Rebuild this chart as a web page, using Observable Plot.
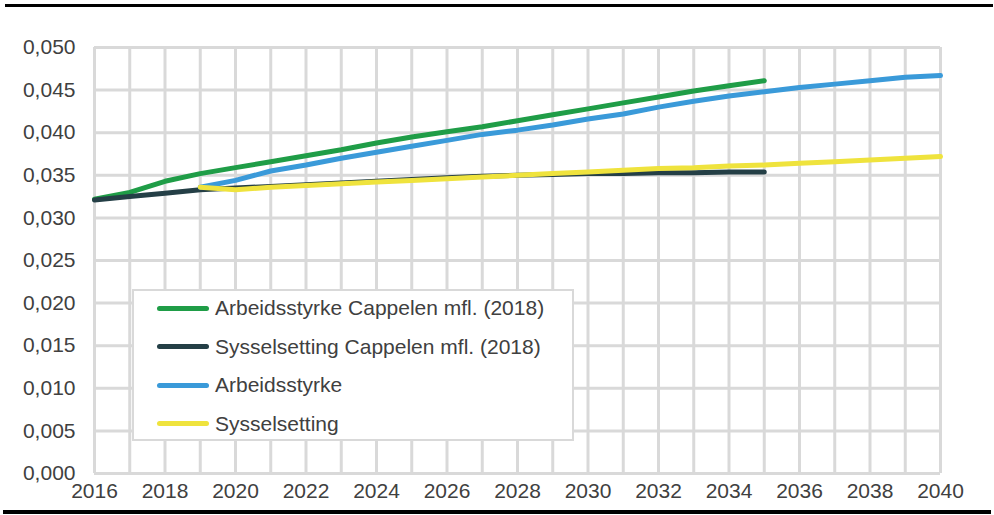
<!DOCTYPE html>
<html>
<head>
<meta charset="utf-8">
<script src="https://cdn.jsdelivr.net/npm/d3@7"></script>
<script src="https://cdn.jsdelivr.net/npm/@observablehq/plot@0.6"></script>
<style>
  html, body { margin: 0; padding: 0; background: #fff; }
  #wrap { position: relative; width: 994px; height: 515px; overflow: hidden; font-family: "Liberation Sans", Arial, sans-serif; }
  .bar { position: absolute; background: #000; }
  #legend { position: absolute; left: 132px; top: 289px; width: 438px; height: 148px; background: #fff; border: 2px solid #d9d9d9; }
  .item { position: absolute; left: 23px; height: 24px; display: flex; align-items: center; font-size: 21px; color: #404040; white-space: nowrap; }
  .sw { width: 52px; height: 5px; border-radius: 3px; margin-right: 6px; }
</style>
</head>
<body>
<div id="wrap"></div>
<script>
const years = d3.range(2016, 2041);
const xTickLabels = d3.range(2016, 2041, 2);
const yTicks = [0, 0.005, 0.01, 0.015, 0.02, 0.025, 0.03, 0.035, 0.04, 0.045, 0.05];

const seriesNames = [
  "Arbeidsstyrke Cappelen mfl. (2018)",
  "Sysselsetting Cappelen mfl. (2018)",
  "Arbeidsstyrke",
  "Sysselsetting"
];
const seriesColors = ["#1f9d47", "#243f46", "#3a9ad9", "#efe33d"];

const cappelenYears = d3.range(2016, 2036);
const newYears = d3.range(2019, 2041);

const arbeidsstyrkeCappelen = [0.0322, 0.0330, 0.0343, 0.0352, 0.0359, 0.0366, 0.0373, 0.0380, 0.0388, 0.0395,
  0.0401, 0.0407, 0.0414, 0.0421, 0.0428, 0.0435, 0.0442, 0.0449, 0.0455, 0.0461];
const sysselsettingCappelen = [0.0321, 0.0325, 0.0329, 0.0333, 0.0335, 0.0337, 0.0339, 0.0341, 0.0343, 0.0345,
  0.0347, 0.0349, 0.0350, 0.0351, 0.0352, 0.0352, 0.0353, 0.0353, 0.0354, 0.0354];
const arbeidsstyrke = [0.0336, 0.0344, 0.0355, 0.0362, 0.0370, 0.0377, 0.0384, 0.0391, 0.0398, 0.0403, 0.0409,
  0.0416, 0.0422, 0.0430, 0.0437, 0.0443, 0.0448, 0.0453, 0.0457, 0.0461, 0.0465, 0.0467];
const sysselsetting = [0.0336, 0.0333, 0.0336, 0.0338, 0.0340, 0.0342, 0.0344, 0.0346, 0.0348, 0.0350, 0.0352,
  0.0354, 0.0356, 0.0358, 0.0359, 0.0361, 0.0362, 0.0364, 0.0366, 0.0368, 0.0370, 0.0372];

const seriesYears = [cappelenYears, cappelenYears, newYears, newYears];
const seriesValues = [arbeidsstyrkeCappelen, sysselsettingCappelen, arbeidsstyrke, sysselsetting];

const rows = [];
seriesNames.forEach((name, i) => {
  seriesYears[i].forEach((yr, j) => rows.push({series: name, year: yr, value: seriesValues[i][j]}));
});

const fmtY = d => d3.format(".3f")(d).replace(".", ",");

const chart = Plot.plot({
  width: 994,
  height: 515,
  marginLeft: 94,
  marginRight: 54,
  marginTop: 47,
  marginBottom: 42,
  style: { fontFamily: "'Liberation Sans', Arial, sans-serif", fontSize: "21px", color: "#404040", background: "transparent" },
  x: { domain: [2016, 2040], label: null },
  y: { domain: [0, 0.05], label: null },
  color: { domain: seriesNames, range: seriesColors },
  marks: [
    Plot.ruleX(years, { x: d => d, stroke: "#d9d9d9", strokeWidth: 3 }),
    Plot.ruleY(yTicks, { y: d => d, stroke: "#d9d9d9", strokeWidth: 3 }),
    Plot.axisX({ ticks: xTickLabels, tickFormat: d => String(d), tickSize: 0, tickPadding: 10, fill: "#404040", fontSize: 21, label: null }),
    Plot.axisY({ ticks: yTicks, tickFormat: fmtY, tickSize: 0, tickPadding: 19, fill: "#404040", fontSize: 21, label: null }),
    Plot.line(rows, { x: "year", y: "value", z: "series", stroke: "series", strokeWidth: 5, strokeLinecap: "round", strokeLinejoin: "round" })
  ]
});

const wrap = document.getElementById("wrap");
wrap.appendChild(chart);

const topBar = document.createElement("div");
topBar.className = "bar";
Object.assign(topBar.style, { left: "5px", top: "4px", width: "988px", height: "3px" });
wrap.appendChild(topBar);
const botBar = document.createElement("div");
botBar.className = "bar";
Object.assign(botBar.style, { left: "3px", top: "510px", width: "988px", height: "4px" });
wrap.appendChild(botBar);

const legend = document.createElement("div");
legend.id = "legend";
seriesNames.forEach((name, i) => {
  const it = document.createElement("div");
  it.className = "item";
  it.style.top = (5 + i * 38.5) + "px";
  const sw = document.createElement("div");
  sw.className = "sw";
  sw.style.background = seriesColors[i];
  const tx = document.createElement("span");
  tx.textContent = name;
  it.appendChild(sw);
  it.appendChild(tx);
  legend.appendChild(it);
});
wrap.appendChild(legend);
</script>
</body>
</html>
